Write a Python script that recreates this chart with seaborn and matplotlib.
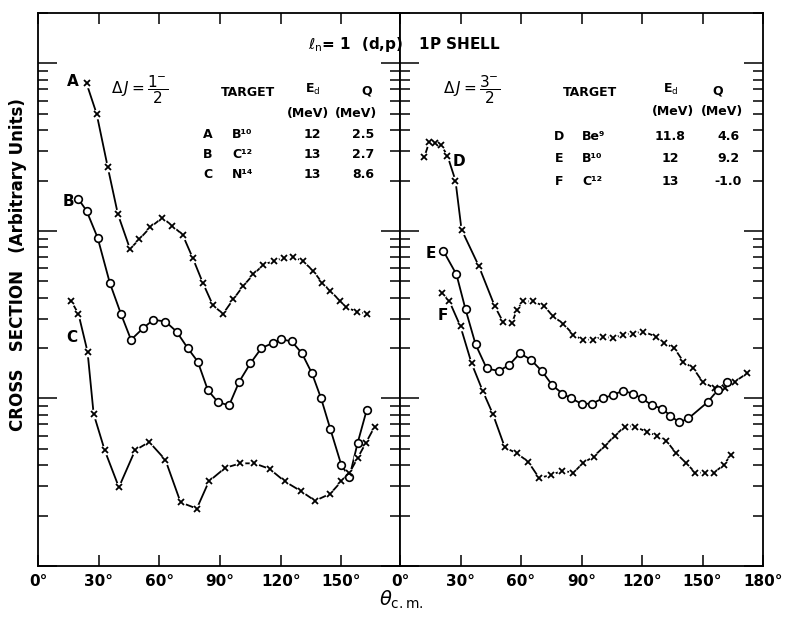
import numpy as np
import pandas as pd
import matplotlib
matplotlib.use("Agg")
import matplotlib.pyplot as plt
import seaborn as sns
from matplotlib.ticker import LogLocator, NullFormatter

# angles (deg, c.m.) and cross sections (arbitrary units)
theta_a = [24, 29, 34.5, 39.5, 45.5, 50, 55.5, 61.5, 66.5, 71.5, 76.5, 81.5, 86.5, 91.5, 96.5,
           101.5, 106.5, 111.5, 116.5, 121.5, 126, 131, 136, 140.5, 144.5, 149.5, 152.5, 157.5, 162.5]
sigma_a = [760, 500, 240, 126, 78, 89, 105, 120, 107, 95, 69, 49, 36, 32, 39,
           47, 55, 63, 66, 69, 70, 66, 58, 49, 44, 38, 35, 33, 32]

theta_b = [20, 24, 29.5, 35.5, 41, 46, 52, 57, 63, 68.5, 74, 79, 84, 89, 94.5,
           99.5, 105, 110.5, 116, 120, 125.5, 130.5, 135.5, 140, 144.5, 150, 154, 158, 162.5]
sigma_b = [155, 132, 91, 49, 32, 22.4, 26.3, 29.5, 28.8, 25.1, 20, 16.6, 11.2, 9.5, 9.1,
           12.6, 16.2, 20, 21.4, 22.6, 21.9, 18.6, 14.1, 10, 6.6, 4.0, 3.4, 5.4, 8.5]

theta_c = [16.5, 20, 24.5, 27.5, 33, 40, 48, 55, 63, 70.5, 78.5, 84.5, 92.5, 100, 107,
           114.5, 122, 130, 137, 144.5, 150, 154, 158, 162, 166.5]
sigma_c = [38, 32, 19, 8.1, 4.9, 2.95, 4.9, 5.5, 4.3, 2.4, 2.2, 3.2, 3.85, 4.1, 4.1,
           3.8, 3.2, 2.8, 2.45, 2.7, 3.2, 3.6, 4.4, 5.4, 6.8]

theta_d = [12, 14.5, 17.5, 20.5, 23.5, 27.5, 30.5, 39, 47, 51, 55.5, 58, 61, 66, 71.5, 76, 81, 86,
           90.5, 95.5, 100.5, 105.5, 110.5, 115.5, 120.5, 127, 131, 136, 140.5, 145.5, 150, 156,
           161, 166, 172]
sigma_d = [275, 339, 335, 324, 282, 200, 102, 62, 35.5, 28.8, 28.2, 33.9, 38, 38, 35.5, 30.9, 27.9, 24,
           22.4, 22.4, 23.4, 22.9, 24, 24.3, 25.1, 23.4, 21.4, 20, 16.6, 15.1, 12.6, 11.5,
           11.5, 12.6, 14.1]

theta_e = [21.5, 28, 32.5, 37.5, 43, 49, 54, 59.5, 65, 70.5, 75.5, 80.5, 85, 90, 95, 100.5,
           105.5, 110.5, 115.5, 120, 125, 130, 134, 138.5, 143, 152.5, 157.5, 162]
sigma_e = [76, 55, 34, 21, 15.1, 14.6, 15.8, 18.6, 17, 14.5, 12, 10.7, 10, 9.3, 9.3, 10,
           10.5, 11.1, 10.7, 10, 9.1, 8.7, 7.9, 7.2, 7.6, 9.5, 11.2, 12.6]

theta_f = [21, 24.5, 30, 35.5, 41, 46, 52, 58, 63.5, 69, 75, 80.5, 86, 90.5, 96, 101.5, 106.5,
           111.5, 116.5, 122.5, 127.5, 132, 137, 142, 146.5, 151, 155.5, 160.5, 164]
sigma_f = [42.7, 38, 26.9, 16.2, 11.1, 8.1, 5.1, 4.7, 4.2, 3.35, 3.5, 3.7, 3.6, 4.1, 4.5, 5.2, 6.0,
           6.8, 6.8, 6.3, 6.0, 5.6, 4.7, 4.1, 3.6, 3.6, 3.6, 4.0, 4.6]

left_ticks = [0, 30, 60, 90, 120, 150]
right_ticks = [0, 30, 60, 90, 120, 150, 180]

rows_left = [("A", "B¹⁰", "12", "2.5"), ("B", "C¹²", "13", "2.7"), ("C", "N¹⁴", "13", "8.6")]
rows_right = [("D", "Be⁹", "11.8", "4.6"), ("E", "B¹⁰", "12", "9.2"), ("F", "C¹²", "13", "-1.0")]

sns.set_style("ticks")
plt.rcParams["font.family"] = ["DejaVu Sans"]
plt.rcParams["mathtext.fontset"] = "dejavusans"
for k in ["text.color", "axes.labelcolor", "xtick.color", "ytick.color", "axes.edgecolor"]:
    plt.rcParams[k] = "black"

W, H = 787, 620
fig = plt.figure(figsize=(W / 100, H / 100), dpi=100)


def px(x, y):
    return x / W, 1 - y / H


def rect(x0, x1, y0=13, y1=566):
    return [x0 / W, 1 - y1 / H, (x1 - x0) / W, (y1 - y0) / H]


ax1 = fig.add_axes(rect(38, 400))
ax2 = fig.add_axes(rect(400, 763))


def draw(ax, th, sig, marker):
    df = pd.DataFrame({"theta": th, "sigma": sig})
    sns.lineplot(data=df, x="theta", y="sigma", ax=ax, color="black", lw=1.3,
                 estimator=None, sort=True, zorder=2)
    if marker == "x":
        ax.plot(df.theta, df.sigma, "o", ms=7, mfc="white", mec="none", zorder=3)
        ax.plot(df.theta, df.sigma, "x", ms=4.5, mew=1.3, color="black", zorder=4)
    else:
        ax.plot(df.theta, df.sigma, "o", ms=5.5, mfc="white", mec="black", mew=1.2, zorder=4)


draw(ax1, theta_a, sigma_a, "x")
draw(ax1, theta_b, sigma_b, "o")
draw(ax1, theta_c, sigma_c, "x")
draw(ax2, theta_d, sigma_d, "x")
draw(ax2, theta_e, sigma_e, "o")
draw(ax2, theta_f, sigma_f, "x")

for ax, xmax, ticks in [(ax1, 179, left_ticks), (ax2, 180, right_ticks)]:
    ax.set_yscale("log")
    ax.set_ylim(1, 2000)
    ax.set_xlim(0, xmax)
    ax.set_xticks(ticks)
    ax.set_xticklabels([f"{t}°" for t in ticks], fontsize=11, fontweight="bold")
    ax.yaxis.set_major_locator(LogLocator(base=10, numticks=10))
    ax.yaxis.set_minor_locator(LogLocator(base=10, subs=np.arange(2, 10), numticks=50))
    ax.yaxis.set_major_formatter(NullFormatter())
    ax.yaxis.set_minor_formatter(NullFormatter())
    ax.tick_params(axis="y", which="both", direction="in", left=True, right=True, width=1.1)
    ax.tick_params(axis="y", which="major", length=14)
    ax.tick_params(axis="y", which="minor", length=7)
    ax.tick_params(axis="x", which="major", direction="in", top=True, bottom=True,
                   length=8, width=1.1, pad=6)
    ax.set_xlabel("")
    ax.set_ylabel("")
    for s in ax.spines.values():
        s.set_visible(True)
        s.set_linewidth(1.3)

txt = dict(fontsize=9, fontweight="bold", ha="center", va="center")


def put(x, y, s, **kw):
    d = dict(txt)
    d.update(kw)
    fig.text(*px(x, y), s, **d)


# left panel annotations
put(73, 82, "A", fontsize=11)
put(68, 202, "B", fontsize=11)
put(72, 337, "C", fontsize=11)
put(140, 90, r"$\Delta\, J = \dfrac{1^{-}}{2}$", fontsize=11)
put(248, 92, "TARGET")
put(313, 89, r"E$_\mathrm{d}$")
put(367, 91, "Q")
put(308, 113, "(MeV)")
put(356, 113, "(MeV)")
for i, (lab, tgt, ed, q) in enumerate(rows_left):
    y = 135 + i * 20
    put(208, y, lab)
    put(232, y, tgt, ha="left")
    put(312, y, ed)
    put(363, y, q)

# right panel annotations
put(459, 162, "D", fontsize=11)
put(431, 253, "E", fontsize=11)
put(443, 315, "F", fontsize=11)
put(472, 90, r"$\Delta\, J = \dfrac{3^{-}}{2}$", fontsize=11)
put(590, 92, "TARGET")
put(671, 89, r"E$_\mathrm{d}$")
put(718, 91, "Q")
put(673, 112, "(MeV)")
put(722, 112, "(MeV)")
for i, (lab, tgt, ed, q) in enumerate(rows_right):
    y = 137 + i * 22
    put(559, y, lab)
    put(582, y, tgt, ha="left")
    put(670, y, ed)
    put(728, y, q)

put(404, 44, r"$\ell_\mathrm{n}$= 1  (d,p)   1P SHELL", fontsize=11)
put(18, 265, "CROSS   SECTION   (Arbitrary Units)", fontsize=12, rotation=90)
put(401, 600, r"$\theta_\mathrm{c.m.}$", fontsize=14)

fig.savefig("out.png", dpi=100)
